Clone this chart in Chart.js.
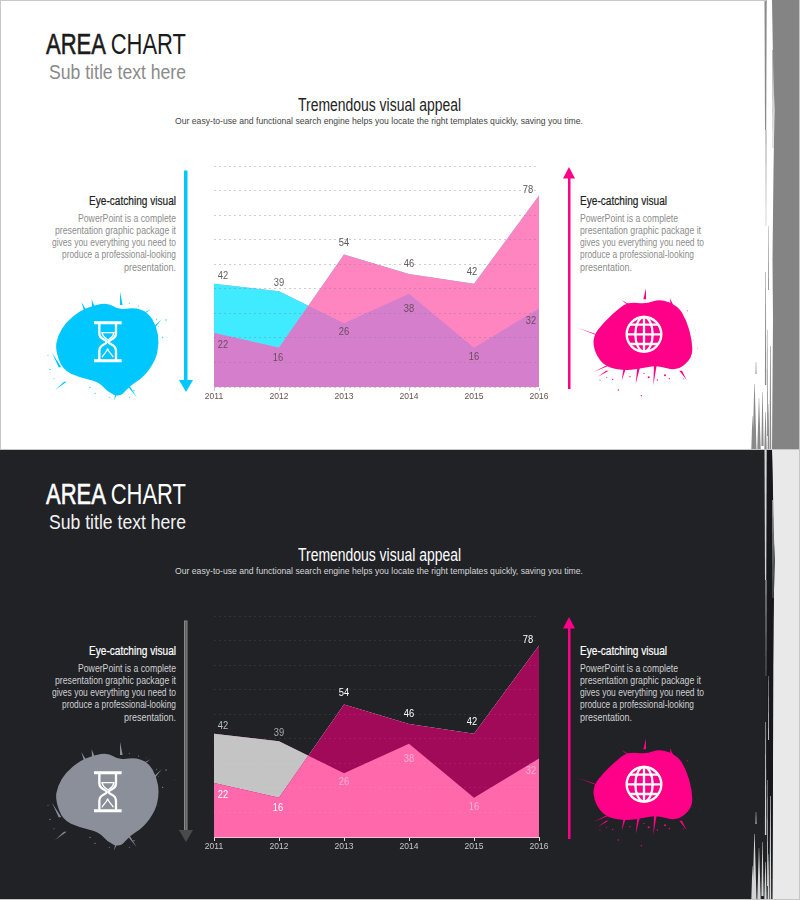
<!DOCTYPE html>
<html>
<head>
<meta charset="utf-8">
<title>Area chart</title>
<script src="https://cdn.jsdelivr.net/npm/chart.js@4/dist/chart.umd.min.js"></script>
<style>
    html, body { margin: 0; padding: 0; background: #fff; }
    #page { position: relative; width: 800px; height: 900px; overflow: hidden; font-family: "Liberation Sans", sans-serif; }
    .slide { position: absolute; left: 0; width: 800px; height: 450px; overflow: hidden; }
    #slide-light { top: 0; background: #fff; }
    #slide-dark { top: 450px; background: #202226; }
    .slide svg { position: absolute; left: 0; top: 0; }
    .slide canvas { position: absolute; left: 200px; top: 150px; }
    .txt { position: absolute; white-space: nowrap; line-height: 1; transform-origin: 0 50%; }
</style>
</head>
<body>
<div id="page">
    <div class="slide" id="slide-light"></div>
    <div class="slide" id="slide-dark"></div>
</div>
<script>
const years = ['2011', '2012', '2013', '2014', '2015', '2016'];
const seriesA = [42, 39, 26, 38, 16, 32];
const seriesB = [22, 16, 54, 46, 42, 78];
const yMax = 90;
const yStep = 10;

const bodyLines = [
    'PowerPoint is a complete',
    'presentation graphic package it',
    'gives you everything you need to',
    'produce a professional-looking',
    'presentation.'
];
const bodyWidths = [98, 121, 124, 114, 52];

// label nudges from the point, in px
const offsetsA = [[9, -8], [0, -8], [0, 9], [0, 15], [0, 9], [-8, 13]];
const offsetsB = [[9, 12], [-1, 10], [0, -11], [0, -10], [-2, -12], [-11, -5]];

const light = {
    id: 'slide-light',
    aboveColor: '#40eaff', belowColor: '#ff85c0', overlapColor: '#d57fcc',
    grid: 'rgba(125,125,125,0.38)', tick: '#c4c4c4', axisLine: 'rgba(0,0,0,0)', tickText: '#6b5048',
    labelsA: ['#6b6060', '#6b6060', '#6b4a5c', '#6b4a5c', '#6b4a5c', '#6b4a5c'],
    labelsB: ['#6b4a5c', '#6b4a5c', '#5f5555', '#5f5555', '#5f5555', '#5f5555'],
    title: '#1b1b1b', sub: '#8a8a8a', head: '#222', lead: '#444', heading: '#222', body: '#8c8c8c',
    arrowLeft: '#00c8ff', arrowLeftEdge: '#00c8ff', arrowLeftHead: '#00c8ff', blobLeft: '#00c8ff',
    band: '#848484', streak: '#8a8a8a', gap: 'none'
};
const dark = {
    id: 'slide-dark',
    aboveColor: '#c4c4c4', belowColor: '#a00a58', overlapColor: '#ff69ab',
    grid: 'rgba(255,255,255,0.08)', tick: '#ddd', axisLine: '#eec3d6', tickText: '#c8c8c8',
    labelsA: ['#bdbdbd', '#a8a8a8', '#f9b3d2', '#f9b3d2', '#f9b3d2', '#f9b3d2'],
    labelsB: ['#fff', '#fff', '#fff', '#fff', '#fff', '#fff'],
    title: '#fff', sub: '#f2f2f2', head: '#fff', lead: '#d6d6d6', heading: '#fff', body: '#d0d0d0',
    arrowLeft: '#5c5c5c', arrowLeftEdge: '#8a8a8a', arrowLeftHead: '#4a4a4a', blobLeft: '#8b8f9a',
    band: '#e9e9e9', streak: '#d4d4d4', gap: '#17181c'
};

const splashLeftOutline = [[46,210],[52,170],[78,126],[118,94],[160,76],[205,68],[235,90],[282,82],[324,96],[350,140],[358,190],[346,244],[308,294],[268,318],[240,352],[202,336],[178,306],[118,292],[68,270]];
const splashRightOutline = [[68,170],[102,126],[148,84],[176,66],[230,72],[270,56],[324,78],[350,122],[366,180],[368,232],[322,274],[260,256],[220,264],[170,272],[106,262],[74,218]];
const splashLeftSpikes = [[240,35,244,75],[124,66,136,92],[155,58,160,80],[332,88,312,100],[365,118,340,145],[362,228,340,226],[45,330,76,305],[36,218,60,262],[222,362,232,330],[290,352,262,312]];
const splashRightSpikes = [[22,143,82,165],[228,25,224,58],[155,60,178,76],[300,55,306,76],[70,276,110,258],[84,290,112,272],[155,302,165,262],[197,312,206,262],[250,316,256,256],[350,300,332,272],[372,232,350,236]];
const splashLeftDots = [[378,120,2],[368,172,2],[404,150,1],[24,226,1.5],[30,268,2],[42,296,1.5],[150,322,2],[165,340,2],[282,332,2],[268,352,1.5],[208,352,1.5],[350,118,1.5],[356,140,1],[268,70,1.5],[296,78,1.5],[320,84,1],[418,300,1]];
const splashRightDots = [[214,347,2],[145,330,2],[352,92,1.5],[382,205,1],[392,240,1],[285,286,3],[298,296,2],[128,298,2],[262,300,2],[236,292,3],[222,280,2],[180,290,2],[110,292,1.5],[90,300,1.5],[340,296,1.5],[370,180,1],[376,150,1],[195,42,1]];

// right hand brush marks: x, y from, y to, width at top, width at bottom
const brushMarks = [
    [765.6, 0, 130, 2.2, 1.2], [766, 130, 226, 0.9, 0.3], [773, 50, 148, 1.2, 0.4], [768.5, 226, 290, 0.4, 0.9],
    [765.6, 272, 385, 0.5, 1.4], [770.4, 346, 450, 0.6, 1.6], [767.6, 330, 436, 0.4, 1],
    [756, 362, 374, 0.4, 1], [754.5, 384, 450, 0.4, 4], [759, 398, 450, 0.3, 3.4], [752.5, 416, 450, 0.3, 2.4],
    [762.5, 392, 446, 0.4, 2.2], [765.5, 412, 450, 0.4, 2.4], [768.4, 404, 450, 0.3, 1.6]
];

// draws the number next to each point, using the chart's own scales
const pointLabels = {
    id: 'pointLabels',
    afterDatasetsDraw(chart, args, opts) {
        const ctx = chart.ctx;
        const x = chart.scales.x;
        const y = chart.scales.y;
        ctx.font = '11px "Liberation Sans", sans-serif';
        ctx.textAlign = 'center';
        ctx.textBaseline = 'middle';
        [[seriesA, offsetsA, opts.colorsA], [seriesB, offsetsB, opts.colorsB]].forEach(([values, offsets, colors]) => {
            values.forEach((v, i) => {
                ctx.save();
                ctx.translate(x.getPixelForValue(i) + offsets[i][0], y.getPixelForValue(v) + offsets[i][1]);
                ctx.scale(0.85, 1);
                ctx.fillStyle = colors[i];
                ctx.fillText(v, 0, 0);
                ctx.restore();
            });
        });
    }
};

function put(slide, text, x, y, size, color, opts) {
    opts = opts || {};
    const el = document.createElement('div');
    el.className = 'txt';
    el.style.fontSize = size + 'px';
    el.style.color = color;
    el.style.top = (y - size / 2) + 'px';
    if (opts.html) el.innerHTML = opts.html;
    else el.textContent = text;
    if (opts.stroke) el.style.webkitTextStroke = opts.stroke + 'px ' + color;
    slide.appendChild(el);
    // the narrow look of the original: squeeze the line to its measured width
    const w = el.getBoundingClientRect().width;
    const target = opts.width || w;
    el.style.transform = 'scaleX(' + (target / w) + ')';
    if (opts.align === 'right') el.style.left = (x - target) + 'px';
    else if (opts.align === 'center') el.style.left = (x - target / 2) + 'px';
    else el.style.left = x + 'px';
    return el;
}

function addTexts(theme) {
    const s = document.getElementById(theme.id);
    put(s, '', 46, 44, 29, theme.title, {
        width: 140,
        html: '<span style="-webkit-text-stroke:.6px ' + theme.title + '">AREA</span> CHART'
    });
    put(s, 'Sub title text here', 49, 72, 20, theme.sub, { width: 137 });
    put(s, 'Tremendous visual appeal', 379.5, 106, 17.5, theme.head, { width: 163, align: 'center' });
    put(s, 'Our easy-to-use and functional search engine helps you locate the right templates quickly, saving you time.', 379, 120.5, 9.5, theme.lead, { width: 408, align: 'center' });

    const lineY = [218, 230, 242, 254, 267];
    put(s, 'Eye-catching visual', 176, 201, 12, theme.heading, { width: 87, align: 'right', stroke: 0.2 });
    put(s, 'Eye-catching visual', 580, 201, 12, theme.heading, { width: 87, stroke: 0.2 });
    bodyLines.forEach((line, i) => {
        put(s, line, 176, lineY[i], 10.5, theme.body, { width: bodyWidths[i], align: 'right' });
        put(s, line, 580, lineY[i], 10.5, theme.body, { width: bodyWidths[i] });
    });
}

// closed smooth curve through the midpoints of the outline
function smoothPath(pts) {
    const mid = (a, b) => ((a[0] + b[0]) / 2) + ' ' + ((a[1] + b[1]) / 2);
    let d = 'M' + mid(pts[pts.length - 1], pts[0]);
    pts.forEach((p, i) => {
        d += ' Q' + p[0] + ' ' + p[1] + ' ' + mid(p, pts[(i + 1) % pts.length]);
    });
    return d + ' Z';
}

function splash(outline, spikes, dots, color, originX) {
    let out = '<g transform="translate(' + originX + ',280) scale(0.3333)" fill="' + color + '">';
    out += '<path d="' + smoothPath(outline) + '"/>';
    spikes.forEach(k => {
        // tapered fleck: sharp at the far end, wide where it meets the blot
        out += '<path d="M' + k[0] + ' ' + k[1] + ' L' + (k[2] - 4) + ' ' + k[3] + ' L' + (k[2] + 4) + ' ' + k[3] + ' Z"/>';
    });
    dots.forEach(c => {
        out += '<circle cx="' + c[0] + '" cy="' + c[1] + '" r="' + c[2] + '"/>';
    });
    return out + '</g>';
}

function addDecor(theme) {
    const s = document.getElementById(theme.id);
    const isDark = theme === dark;
    let bits = '';

    // right hand brush band
    bits += '<path d="M772 0 L773 60 L774.5 110 L773.5 170 L772.5 260 L773 320 L772 450 L800 450 L800 0 Z" fill="' + theme.band + '"/>';
    if (isDark) bits += '<path d="M767 0 H772 L774.5 110 L773.5 170 L772.5 450 H767 Z" fill="' + theme.gap + '"/>';
    brushMarks.forEach(p => {
        const hw1 = p[3] / 2;
        const hw2 = p[4] / 2;
        bits += '<path d="M' + (p[0] - hw1) + ' ' + p[1] + ' H' + (p[0] + hw1) + ' L' + (p[0] + hw2) + ' ' + p[2] + ' H' + (p[0] - hw2) + ' Z" fill="' + theme.streak + '"/>';
    });

    // arrows
    bits += '<rect x="184.5" y="171" width="2.5" height="210" fill="' + theme.arrowLeft + '" stroke="' + theme.arrowLeftEdge + '"/>';
    bits += '<path d="M179 380 H193 L186 392 Z" fill="' + theme.arrowLeftHead + '"/>';
    bits += '<rect x="568" y="176" width="2.5" height="213" fill="#ff0088"/>';
    bits += '<path d="M563 178.5 H575 L569 167 Z" fill="#ff0088"/>';

    bits += splash(splashLeftOutline, splashLeftSpikes, splashLeftDots, theme.blobLeft, 40);
    // hourglass
    bits += '<g transform="translate(40,280) scale(0.3333)" fill="none" stroke="#fff" stroke-width="7">';
    bits += '<path d="M162 128 H245 M162 242 H245" stroke-width="9"/>';
    bits += '<path d="M178 132 V160 C178 180 200 178 200 186 C200 194 178 192 178 212 V240 M228 132 V160 C228 180 206 178 206 186 C206 194 228 192 228 212 V240"/>';
    bits += '<path d="M186 158 H222 C220 172 208 176 204 180 C200 176 188 172 186 158 Z M186 232 C192 220 200 218 203 206 C206 218 214 220 220 232" stroke-width="4"/>';
    bits += '</g>';

    bits += splash(splashRightOutline, splashRightSpikes, splashRightDots, '#ff0088', 570);
    // globe
    bits += '<g transform="translate(570,280) scale(0.3333)" fill="none" stroke="#fff" stroke-width="7">';
    bits += '<circle cx="222" cy="163" r="52"/><ellipse cx="222" cy="163" rx="26" ry="52"/>';
    bits += '<path d="M222 111 V215 M170 163 H274 M180 134 H264 M180 192 H264"/>';
    bits += '</g>';

    // thin slide frame
    if (!isDark) bits += '<path d="M0 0.5 H766 M0.5 0 V450" stroke="#c8c8c8" fill="none"/>';
    bits += '<path d="M0 449.5 H800 M799.5 0 V450" stroke="#c6c6c6" fill="none"/>';

    const holder = document.createElement('div');
    holder.innerHTML = '<svg width="800" height="450" viewBox="0 0 800 450">' + bits + '</svg>';
    s.appendChild(holder.firstChild);
}

function addChart(theme) {
    const s = document.getElementById(theme.id);
    const canvas = document.createElement('canvas');
    canvas.width = 360;
    canvas.height = 260;
    s.appendChild(canvas);

    new Chart(canvas.getContext('2d'), {
        type: 'line',
        plugins: [pointLabels],
        data: {
            labels: years,
            datasets: [
                // difference between the two series, on top
                { data: seriesA, borderWidth: 0, pointRadius: 0, tension: 0, fill: { target: 1, above: theme.aboveColor, below: theme.belowColor } },
                // shared area underneath
                { data: seriesB, borderWidth: 0, pointRadius: 0, tension: 0, fill: 'origin', backgroundColor: theme.overlapColor },
                { data: seriesA, borderWidth: 0, pointRadius: 0, tension: 0, fill: 'origin', backgroundColor: theme.overlapColor }
            ]
        },
        options: {
            responsive: false,
            animation: false,
            layout: { padding: { left: 14, right: 21, top: 16, bottom: 0 } },
            plugins: {
                legend: { display: false },
                tooltip: { enabled: false },
                pointLabels: { colorsA: theme.labelsA, colorsB: theme.labelsB }
            },
            scales: {
                x: {
                    afterFit: scale => { scale.height = 23; },
                    grid: { drawOnChartArea: false, color: theme.tick, tickLength: 4 },
                    border: { color: theme.axisLine, z: 1 },
                    ticks: {
                        autoSkip: false, maxRotation: 0, padding: 1, color: theme.tickText,
                        font: { family: '"Liberation Sans", sans-serif', size: 8.5 }
                    }
                },
                y: {
                    min: 0,
                    max: yMax,
                    afterFit: scale => { scale.width = 0; },
                    ticks: { display: false, stepSize: yStep },
                    border: { display: false, dash: [2, 3] },
                    grid: { color: theme.grid, z: 1, tickLength: 0 }
                }
            }
        }
    });
}

[light, dark].forEach(theme => {
    addDecor(theme);
    addTexts(theme);
    addChart(theme);
});
</script>
</body>
</html>
